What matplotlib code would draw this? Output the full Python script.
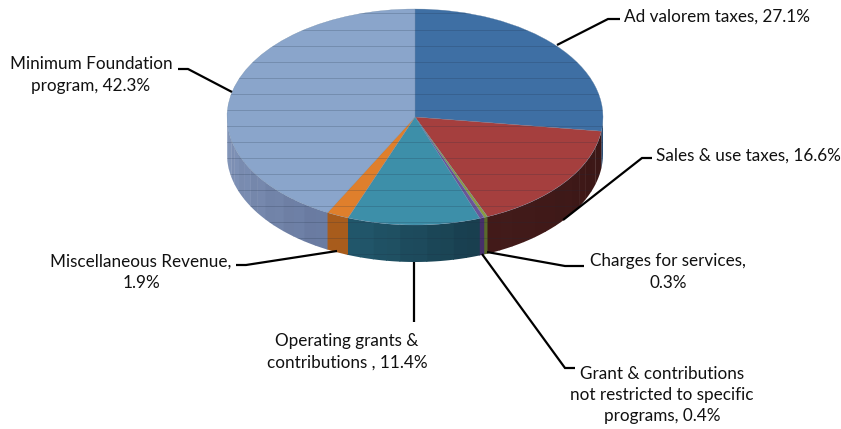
import matplotlib
matplotlib.use("Agg")
import matplotlib.pyplot as plt
import numpy as np
from matplotlib.colors import to_rgb
from matplotlib.patches import PathPatch
from matplotlib.path import Path

W, H = 841, 429

names = ["Ad valorem taxes", "Sales & use taxes", "Charges for services",
         "Grant & contributions", "Operating grants & contributions",
         "Miscellaneous Revenue", "Minimum Foundation program"]
shares = [27.1, 16.6, 0.3, 0.4, 11.4, 1.9, 42.3]
top_colors = ["#3e6fa4", "#a53f3e", "#8b9c42", "#6b5498", "#3d8fa9", "#df7f2c", "#8aa5cb"]
side_left = ["#2c4f75", "#431b1a", "#5a6a2c", "#46306a", "#22586c", "#b8671f", "#8598bc"]
side_right = ["#2c4f75", "#3c1716", "#5a6a2c", "#46306a", "#193f4f", "#a85c1c", "#6a7ca2"]

label_text = [
    f"Ad valorem taxes, {shares[0]}%",
    f"Sales & use taxes, {shares[1]}%",
    f"Charges for services,\n{shares[2]}%",
    f"Grant & contributions\nnot restricted to specific\nprograms, {shares[3]}%",
    f"Operating grants &\ncontributions , {shares[4]}%",
    f"Miscellaneous Revenue,\n{shares[5]}%",
    f"Minimum Foundation\nprogram, {shares[6]}%",
]
# label anchor (x, y, ha) in pixels from the top left
label_pos = [(624, 17, "left"), (656, 156, "left"), (668, 272, "center"), (662, 395, "center"),
             (347, 352, "center"), (141, 272, "center"), (91, 75, "center")]
leaders = [
    [(557, 45), (608, 19), (620, 19)],
    [(563, 220), (642, 158), (652, 158)],
    [(487, 252), (565, 266), (584, 266)],
    [(482, 254), (565, 368), (575, 368)],
    [(414, 262), (414, 322)],
    [(337, 251), (246, 265), (236, 265)],
    [(232, 92), (188, 69), (178, 69)],
]

# ellipse of the pie top, pixels
cx, cy, rx, ry, depth = 415, 117, 188, 108, 37

fig = plt.figure(figsize=(W / 100, H / 100), dpi=100)

# pie axes: unit circle squashed to the ellipse, with room below for the rim
ax = fig.add_axes([(cx - rx) / W, 1 - (cy + ry + depth) / H, 2 * rx / W, (2 * ry + depth) / H])
d = depth / ry

# rim, one strip at a time so that the shading shows bands
edges = np.concatenate([[0], np.cumsum(shares)]) / sum(shares) * 360
for i in range(len(shares)):
    a0, a1 = max(edges[i], 90), min(edges[i + 1], 270)
    if a1 <= a0:
        continue
    n = max(1, int((a1 - a0) / 4))
    steps = np.linspace(a0, a1, n + 1)
    c0, c1 = np.array(to_rgb(side_left[i])), np.array(to_rgb(side_right[i]))
    for j in range(n):
        t = np.radians(np.linspace(steps[j], steps[j + 1] + 0.3, 6))
        f = j / max(n - 1, 1)
        col = c1 * (1 - f) + c0 * f
        if j % 2:
            col = col * 0.98
        xs = np.sin(t)
        ys = np.cos(t)
        ax.fill(np.r_[xs, xs[::-1]], np.r_[ys, ys[::-1] - d], color=col, lw=0)

wedges, _ = ax.pie(shares, colors=top_colors, startangle=90, counterclock=False, radius=1,
                   wedgeprops=dict(lw=0.2, edgecolor="#6a86a4"))
ax.set_aspect("auto")
ax.set_xlim(-1, 1)
ax.set_ylim(-1 - d, 1)
ax.axis("off")

# thin horizontal streaks across the whole pie body
t = np.radians(np.linspace(0, 360, 361))
outline = np.c_[np.sin(t), np.where(np.cos(t) < 0, np.cos(t) - d, np.cos(t))]
clip = PathPatch(Path(outline), transform=ax.transData, fc="none", ec="none")
ax.add_patch(clip)
for py in np.arange(13.5, 262, 16):
    yy = 1 - (py - (cy - ry)) / ry
    line, = ax.plot([-1, 1], [yy, yy], color="#1c2c40", lw=0.7, alpha=0.2)
    line.set_clip_path(clip)

# pixel overlay for the leaders and the labels
ov = fig.add_axes([0, 0, 1, 1])
ov.set_xlim(0, W)
ov.set_ylim(H, 0)
ov.axis("off")
for pts in leaders:
    ov.plot(*zip(*pts), color="black", lw=1.6, solid_capstyle="butt", solid_joinstyle="miter")
for txt, (x, y, ha) in zip(label_text, label_pos):
    ov.text(x, y, txt, ha=ha, va="center", family="Lato", fontsize=12.3, color="#111111",
            linespacing=1.42, multialignment="center")

fig.savefig("out.png", dpi=100, facecolor="white")
